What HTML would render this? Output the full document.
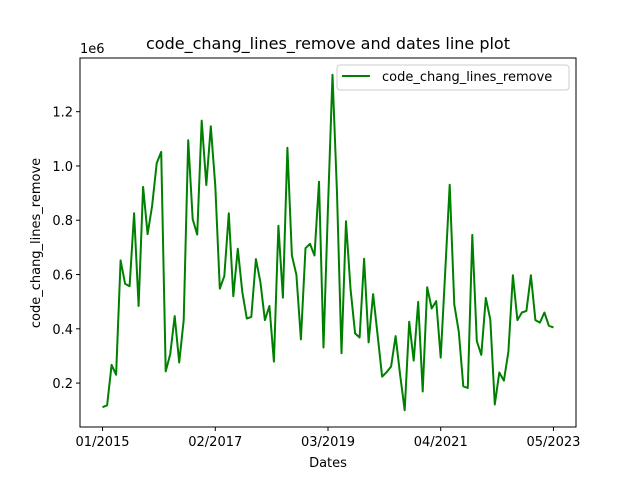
<!DOCTYPE html>
<html><head><meta charset="utf-8"><style>
body{margin:0;background:#fff}
svg text{font-family:"DejaVu Sans","Liberation Sans",sans-serif;fill:#000}
</style></head><body>
<svg id="chart" width="640" height="480" xmlns="http://www.w3.org/2000/svg">
<rect width="640" height="480" fill="#fff"/>
<text x="328" y="49" font-size="16" text-anchor="middle">code_chang_lines_remove and dates line plot</text>
<text x="80" y="53" font-size="13">1e6</text>
<text x="328" y="467" font-size="13" text-anchor="middle">Dates</text>
<text transform="translate(40,243) rotate(-90)" font-size="13" text-anchor="middle">code_chang_lines_remove</text>
<g id="ticks"></g>
<polyline id="series" fill="none" stroke="#008000" stroke-width="2" stroke-linejoin="round"/>
<rect x="80" y="58" width="496" height="369" fill="none" stroke="#000" stroke-width="1"/>
<g>
<rect x="337" y="65" width="232" height="25" rx="3" fill="#fff" stroke="#ccc"/>
<line x1="342" y1="76" x2="370" y2="76" stroke="#008000" stroke-width="2"/>
<text x="382" y="81" font-size="13">code_chang_lines_remove</text>
</g>
</svg>
<script>
const values=[0.111,0.118,0.267,0.231,0.652,0.566,0.557,0.826,0.484,0.923,0.749,0.853,1.010,1.052,0.243,0.306,0.447,0.276,0.432,1.095,0.804,0.747,1.167,0.930,1.146,0.926,0.548,0.594,0.826,0.520,0.695,0.536,0.438,0.444,0.657,0.572,0.432,0.484,0.279,0.780,0.515,1.067,0.670,0.599,0.361,0.697,0.713,0.670,0.942,0.331,0.85,1.336,0.9,0.310,0.796,0.548,0.383,0.368,0.658,0.350,0.528,0.377,0.224,0.240,0.261,0.373,0.231,0.100,0.426,0.283,0.499,0.169,0.553,0.475,0.502,0.294,0.609,0.931,0.489,0.389,0.188,0.182,0.746,0.355,0.304,0.514,0.434,0.121,0.239,0.209,0.316,0.597,0.432,0.460,0.466,0.597,0.432,0.423,0.460,0.411,0.405];
const yTicks=[0.2,0.4,0.6,0.8,1.0,1.2];
const xTickIdx=[0,25,50,75,100];
const xTickLabels=["01/2015","02/2017","03/2019","04/2021","05/2023"];
const L=80,R=576,T=58,B=427;
const n=values.length;
const xmin=-0.05*(n-1),xmax=(n-1)*1.05;
const vmin=Math.min(...values),vmax=Math.max(...values),pad=(vmax-vmin)*0.05;
const ymin=vmin-pad,ymax=vmax+pad;
const X=i=>L+(i-xmin)/(xmax-xmin)*(R-L);
const Y=v=>B-(v-ymin)/(ymax-ymin)*(B-T);
const ns="http://www.w3.org/2000/svg";
const line=document.getElementById('series');
line.setAttribute('points',values.map((v,i)=>X(i).toFixed(1)+','+Y(v).toFixed(1)).join(' '));
const g=document.getElementById('ticks');
yTicks.forEach(t=>{
 const y=Y(t);
 const l=document.createElementNS(ns,'line');
 
 
 l.setAttribute('x1',L-4);l.setAttribute('x2',L);l.setAttribute('y1',y);l.setAttribute('y2',y);l.setAttribute('stroke','#000');
 g.appendChild(l);
 const tx=document.createElementNS(ns,'text');
 
 
 tx.setAttribute('x',L-7);tx.setAttribute('y',y+5);tx.setAttribute('text-anchor','end');tx.setAttribute('font-size','13');
 tx.textContent=t.toFixed(1);g.appendChild(tx);
});
xTickIdx.forEach((idx,k)=>{
 const x=X(idx);
 const l=document.createElementNS(ns,'line');
 
 
 l.setAttribute('x1',x);l.setAttribute('x2',x);l.setAttribute('y1',B);l.setAttribute('y2',B+4);l.setAttribute('stroke','#000');
 g.appendChild(l);
 const tx=document.createElementNS(ns,'text');
 
 
 tx.setAttribute('x',x);tx.setAttribute('y',B+19);tx.setAttribute('text-anchor','middle');tx.setAttribute('font-size','13');
 tx.textContent=xTickLabels[k];g.appendChild(tx);
});
</script>
</body></html>
